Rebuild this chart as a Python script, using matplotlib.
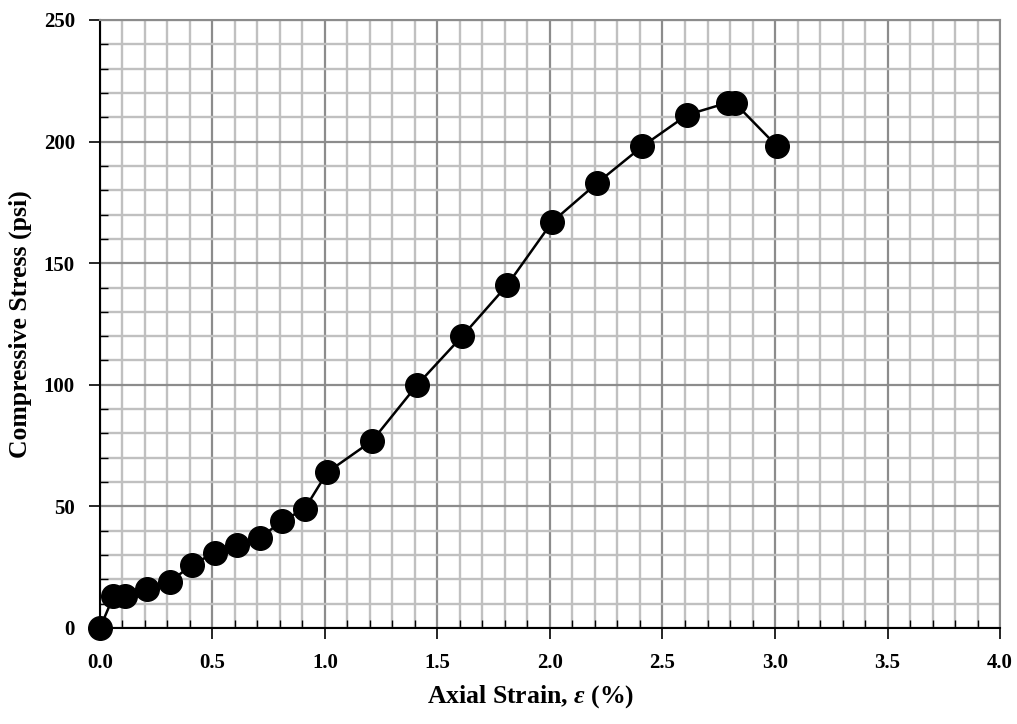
#!/usr/bin/env python3
# -*- coding: utf-8 -*-

import matplotlib
matplotlib.use('Agg')
import matplotlib.pyplot as plt
from matplotlib.ticker import MultipleLocator, FormatStrFormatter

# Datos
strain = [0.0, 0.06, 0.11, 0.21, 0.31, 0.41, 0.51, 0.61, 0.71, 0.81, 0.91,
          1.01, 1.21, 1.41, 1.61, 1.81, 2.01, 2.21, 2.41, 2.61, 2.79, 2.82, 3.01]
stress = [0, 13, 13, 16, 19, 26, 31, 34, 37, 44, 49,
          64, 77, 100, 120, 141, 167, 183, 198, 211, 216, 216, 198]

TickSize = 15
AxisLabelSize = 18.5

plt.rc('font', family='Liberation Serif', weight='bold')
plt.rc('mathtext', fontset='custom', it='Liberation Serif:italic:bold',
       rm='Liberation Serif:bold')

fig = plt.figure(figsize=(10.17, 7.24), dpi=100)
ax = fig.add_axes([0.0983, 0.1326, 0.8850, 0.8398])

ax.plot(strain, stress, '-o', color='k', lw=1.8, markersize=17, zorder=5,
        clip_on=False)

ax.set_xlim(0, 4)
ax.set_ylim(0, 250)
ax.xaxis.set_major_locator(MultipleLocator(0.5))
ax.xaxis.set_minor_locator(MultipleLocator(0.1))
ax.yaxis.set_major_locator(MultipleLocator(50))
ax.yaxis.set_minor_locator(MultipleLocator(10))
ax.xaxis.set_major_formatter(FormatStrFormatter('%.1f'))

ax.grid(which='minor', color='#c0c0c0', lw=1.7)
ax.grid(which='major', color='#8c8c8c', lw=1.6)
ax.set_axisbelow(True)

ax.tick_params(which='major', direction='out', length=8, width=1.2,
               labelsize=TickSize, pad=10)
ax.tick_params(which='minor', direction='in', length=6, width=1.0)

for s in ['top', 'right']:
    ax.spines[s].set_color('#8c8c8c')
    ax.spines[s].set_linewidth(1.5)
for s in ['left', 'bottom']:
    ax.spines[s].set_color('k')
    ax.spines[s].set_linewidth(1.5)

ax.set_xlabel(r'Axial Strain, $\varepsilon$ (%)', fontsize=AxisLabelSize,
              fontweight='bold')
ax.set_ylabel('Compressive Stress (psi)', fontsize=AxisLabelSize,
              fontweight='bold')
ax.xaxis.set_label_coords(0.478, -0.09)
ax.yaxis.set_label_coords(-0.075, 0.5)

plt.savefig('out.png', dpi=100)
